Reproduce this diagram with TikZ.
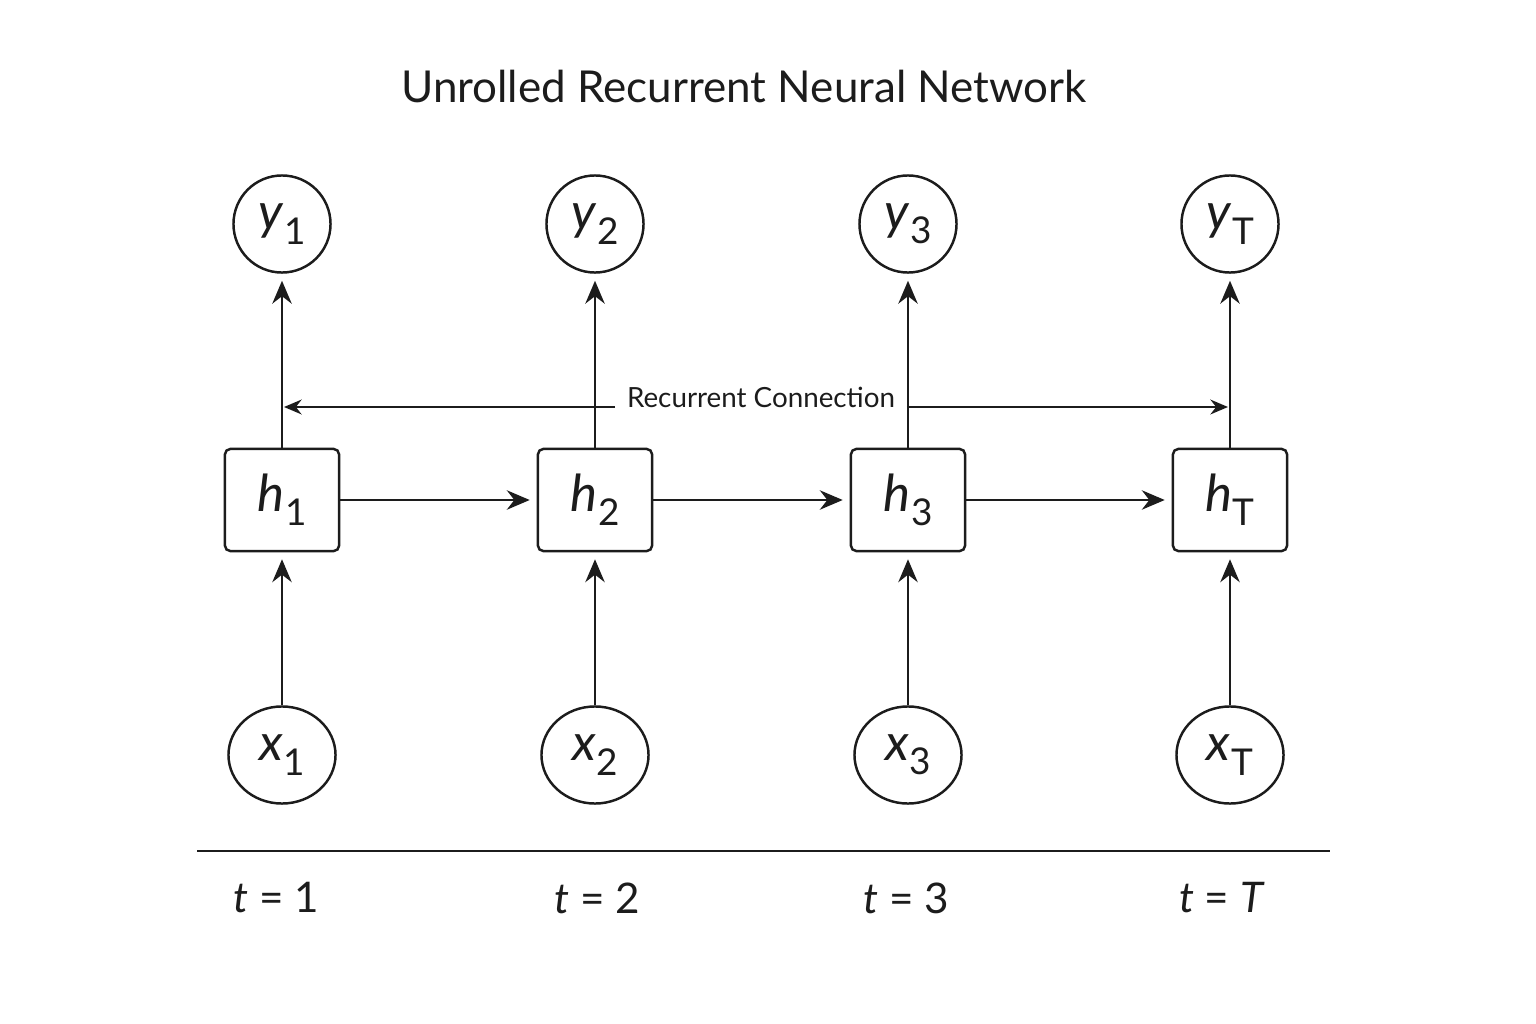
\documentclass[tikz,border=0pt]{standalone}
\usepackage{fontspec}
\setmainfont{Lato}
\usepackage{tikz}
\usetikzlibrary{arrows.meta}
\usetikzlibrary{shapes.geometric}
\usetikzlibrary{calc}
\definecolor{strich}{RGB}{28,28,28}
\newcommand{\idx}[2]{\textit{#1}\kern0.2pt\raisebox{-0.55ex}{\fontsize{10.5}{12}\selectfont #2}}

\begin{document}
\begin{tikzpicture}[x=0.01cm,y=-0.01cm,strich,line width=0.7pt,
	zelle/.style={draw,rounded corners=1.5pt,minimum width=1.14cm,minimum height=1.02cm,inner sep=0pt,font=\fontsize{14.5}{16}\selectfont},
	ausgabe/.style={draw,circle,minimum size=0.97cm,inner sep=0pt,font=\fontsize{14.5}{16}\selectfont},
	eingabe/.style={draw,ellipse,minimum width=1.07cm,minimum height=0.97cm,inner sep=0pt,font=\fontsize{14.5}{16}\selectfont},
	pfeil/.style={-{Stealth[length=6.5pt,width=5.5pt]},shorten >=0.07cm},
	rueck/.style={-{Stealth[length=5pt,width=4.2pt]},shorten >=0.02cm}]
	\useasboundingbox (0,0) rectangle (1536,1024);
	\node[name=titel,font=\fontsize{12.5}{15}\selectfont] at (744,86) {Unrolled Recurrent Neural Network};
	\node[name=y1,ausgabe] at (282,224) {\idx{y}{1}};
	\node[name=y2,ausgabe] at (595,224) {\idx{y}{2}};
	\node[name=y3,ausgabe] at (908,224) {\idx{y}{3}};
	\node[name=yT,ausgabe] at (1230,224) {\idx{y}{T}};
	\node[name=h1,zelle] at (282,500) {\idx{h}{1}};
	\node[name=h2,zelle] at (595,500) {\idx{h}{2}};
	\node[name=h3,zelle] at (908,500) {\idx{h}{3}};
	\node[name=hT,zelle] at (1230,500) {\idx{h}{T}};
	\node[name=x1,eingabe] at (282,755) {\idx{x}{1}};
	\node[name=x2,eingabe] at (595,755) {\idx{x}{2}};
	\node[name=x3,eingabe] at (908,755) {\idx{x}{3}};
	\node[name=xT,eingabe] at (1230,755) {\idx{x}{T}};
	\draw[pfeil] (h1) -- (y1);
	\draw[pfeil] (h2) -- (y2);
	\draw[pfeil] (h3) -- (y3);
	\draw[pfeil] (hT) -- (yT);
	\draw[pfeil] (x1) -- (h1);
	\draw[pfeil] (x2) -- (h2);
	\draw[pfeil] (x3) -- (h3);
	\draw[pfeil] (xT) -- (hT);
	\draw[pfeil] (h1) -- (h2);
	\draw[pfeil] (h2) -- (h3);
	\draw[pfeil] (h3) -- (hT);
	\node[name=rc,anchor=base,inner sep=3pt,font=\fontsize{7.9}{10}\selectfont] at (761,407) {Recurrent Connection};
	\draw[rueck] (rc.base west) -- (rc.base west -| h1.north);
	\draw[rueck] (rc.base east) -- (rc.base east -| hT.north);
	\coordinate (axL) at (197,851);
	\coordinate (axR) at (1330,851);
	\draw (axL) -- (axR);
	\node[name=t1,font=\fontsize{12}{15}\selectfont] at (276,898) {\textit{t} = 1};
	\node[name=t2,font=\fontsize{12}{15}\selectfont] at (597,898) {\textit{t} = 2};
	\node[name=t3,font=\fontsize{12}{15}\selectfont] at (906,898) {\textit{t} = 3};
	\node[name=tT,font=\fontsize{12}{15}\selectfont] at (1222,898) {\textit{t} = \textit{T}};
\end{tikzpicture}
\end{document}
